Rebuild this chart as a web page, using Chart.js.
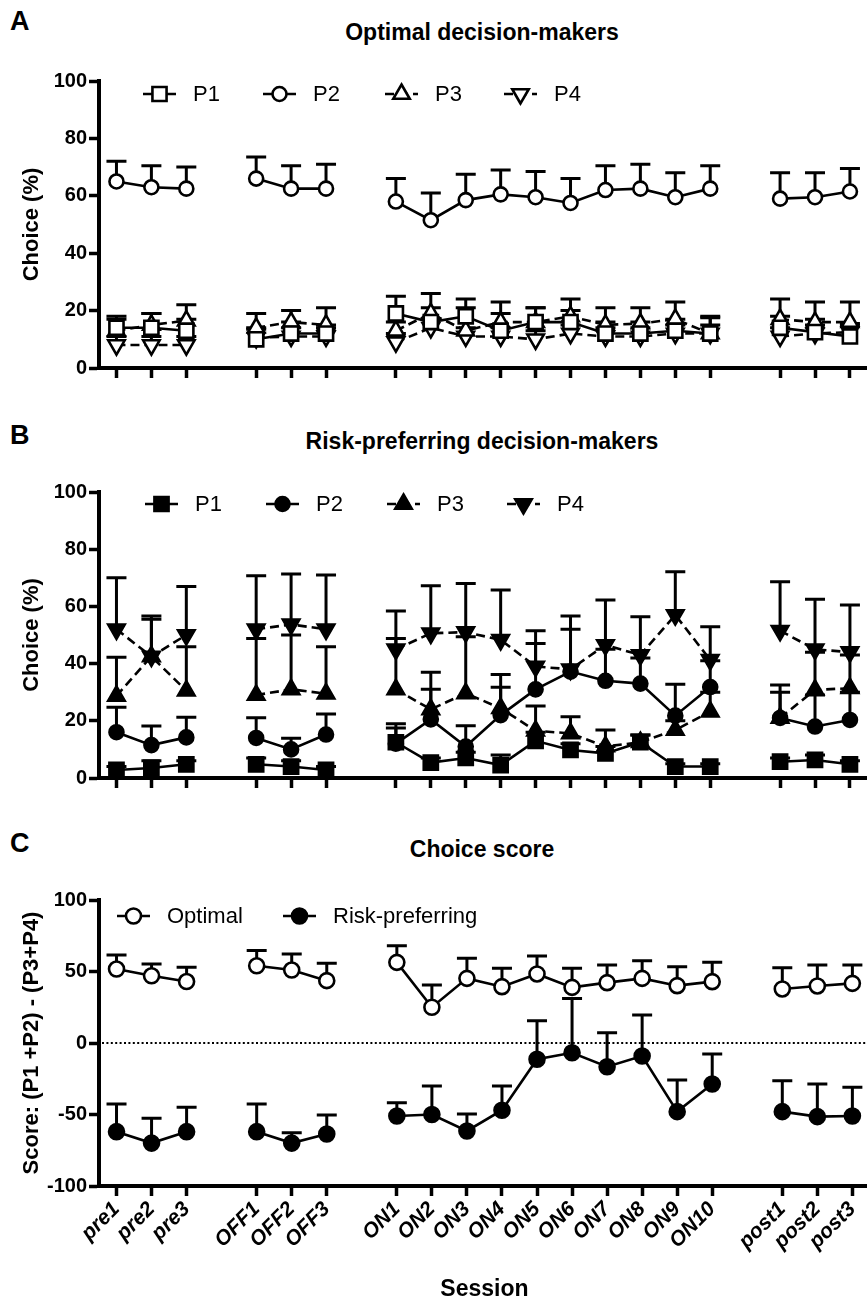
<!DOCTYPE html>
<html><head><meta charset="utf-8">
<script src="https://cdn.jsdelivr.net/npm/chart.js@4.4.1/dist/chart.umd.min.js"></script>
<style>
html,body{margin:0;padding:0;background:#fff;overflow:hidden;width:867px;height:1299px;position:relative;}
.wrap{position:absolute;left:0;}
.lbl{position:absolute;font-family:"Liberation Sans",Arial,Helvetica,sans-serif;font-weight:bold;color:#000;line-height:1;white-space:nowrap;}
.ttl{left:182px;width:600px;text-align:center;font-size:23px;}
.let{left:10px;font-size:27px;}
</style></head><body>
<div class="lbl let" style="top:8px">A</div>
<div class="lbl ttl" style="top:20.5px">Optimal decision-makers</div>
<div class="lbl let" style="top:422px">B</div>
<div class="lbl ttl" style="top:429.5px">Risk-preferring decision-makers</div>
<div class="lbl let" style="top:830px">C</div>
<div class="lbl ttl" style="top:837.5px">Choice score</div>
<div class="wrap" style="top:60px"><canvas id="cA" width="880" height="340"></canvas></div>
<div class="wrap" style="top:470px"><canvas id="cB" width="880" height="340"></canvas></div>
<div class="wrap" style="top:880px"><canvas id="cC" width="880" height="425"></canvas></div>
<script>
// ---------- data ----------
const sessions = ['pre1','pre2','pre3','','OFF1','OFF2','OFF3','','ON1','ON2','ON3','ON4','ON5','ON6','ON7','ON8','ON9','ON10','','post1','post2','post3'];

// Panel A: optimal decision-makers (mean and mean+SEM)
const optP1   = [14,14,13,null,10,12,12,null,19,16,18,13,16,16,12,12,13,12,null,14,12.5,11];
const optP1Hi = [18,19,17,null,14,16,15,null,25,21,24,19,21,20,16,16,17,18,null,18,17,15];
const optP2   = [65,63,62.5,null,66,62.5,62.5,null,58,51.5,58.5,60.5,59.5,57.5,62,62.5,59.5,62.5,null,59,59.5,61.5];
const optP2Hi = [72,70.5,70,null,73.5,70.5,71,null,66,61,67.5,69,68.5,66,70.5,71,68,70.5,null,68,68,69.5];
const optP3   = [13,15,16.5,null,14,16,15,null,13,19,13,16,16,18,15,15.5,17,12,null,17,16,16];
const optP3Hi = [17,19,22,null,19,20,21,null,16,26,21,23,21,24,21,21,23,17.5,null,24,23,23];
const optP4   = [8,8,8,null,10.5,11,11,null,9,14,11,11,10,12,11,11,12,12,null,11,12,12.5];
const optP4Hi = [11,11,11,null,13.5,14,14,null,12,17,14,14,13,15,14,14,15,15,null,14,15,15.5];

// Panel B: risk-preferring decision-makers
const riskP1   = [2.8,3.5,4.8,null,4.8,4,2.8,null,12.5,5.4,7,4.5,13,9.8,8.6,12.5,4,4,null,5.7,6.3,4.8];
const riskP1Hi = [4,6,6,null,7,6,4,null,17.5,7,9,8,16,12,11,15,5,5,null,7,8,6];
const riskP2   = [16,11.5,14.2,null,14,10,15.2,null,12,20.5,11,22,31,37.2,34,33,21.8,31.8,null,21,18,20.3];
const riskP2Hi = [24.7,18.2,21.2,null,21.1,13.9,22.4,null,19,31,18.3,31.7,47,52,45,42,32.8,41,null,32.5,29,30];
const riskP3   = [28.7,42.5,30.5,null,29,31,29.5,null,31,24,29.6,24.4,16.5,15.6,11,12.5,16.8,23.2,null,21,30.8,31.4];
const riskP3Hi = [42.2,55.5,45.9,null,48.8,50,45.9,null,48.8,37,49.4,36.2,25.2,21.4,16.8,15,20,30,null,30,44,43];
const riskP4   = [52,42.5,50,null,52,53.7,52,null,45,50.6,51,48.3,39,38,46.5,43,57,41.3,null,51.5,45,44];
const riskP4Hi = [70,56.6,67,null,70.7,71.3,71,null,58.4,67.2,68,65.7,51.5,56.6,62.2,56.4,72.1,52.9,null,68.6,62.5,60.5];

// Panel C: choice score
const scoreOpt    = [51.7,47,43,null,54,51,43.6,null,56.4,25,45.2,39.4,48.3,38.9,42.2,45.2,40.1,42.9,null,37.8,39.9,41.7];
const scoreOptHi  = [61.5,55.2,52.9,null,64.6,62.2,55.7,null,68,40.6,59.2,52.2,60.8,52.2,54.5,57.6,53.4,56.4,null,52.7,54.5,54.5];
const scoreRisk   = [-62,-70,-62,null,-62,-70,-63.6,null,-51,-50,-61.5,-47,-11.4,-6.8,-16.6,-9.1,-48,-28.7,null,-48,-51.5,-51];
const scoreRiskHi = [-42.7,-52.7,-45,null,-42.7,-62.7,-50.3,null,-41.7,-30,-49.7,-30,15.6,31.2,7.2,19.6,-25.9,-7.7,null,-26.4,-28.7,-31];

const yTicksAB = [0,20,40,60,80,100];
const yTicksC = [-100,-50,0,50,100];

// ---------- styling ----------
const FONT = '"Liberation Sans", Arial, Helvetica, sans-serif';
const BLACK = '#000';

function mk(label, data, upper, shape, filled, dashed, radius) {
  let style = shape, rot = 0;
  if (shape === 'down') { style = 'triangle'; rot = 180; }
  return {
    label, data, upper,
    borderColor: BLACK, borderWidth: 2.6,
    borderDash: dashed ? [9,5] : [],
    pointStyle: style, pointRotation: rot,
    pointRadius: radius, pointHoverRadius: radius,
    pointBorderWidth: 2.6, pointBorderColor: BLACK,
    pointBackgroundColor: filled ? BLACK : '#fff',
    backgroundColor: filled ? BLACK : '#fff',
    spanGaps: false, tension: 0, fill: false
  };
}

const errPlugin = {
  id: 'errBars',
  beforeDatasetsDraw(chart) {
    const ctx = chart.ctx, ys = chart.scales.y;
    chart.data.datasets.forEach((ds, i) => {
      if (!ds.upper) return;
      const meta = chart.getDatasetMeta(i);
      meta.data.forEach((pt, j) => {
        const u = ds.upper[j];
        if (u == null || ds.data[j] == null) return;
        const yp = ys.getPixelForValue(u);
        ctx.save();
        ctx.strokeStyle = BLACK; ctx.lineWidth = 3; ctx.setLineDash([]);
        ctx.beginPath();
        ctx.moveTo(pt.x, pt.y); ctx.lineTo(pt.x, yp);
        ctx.moveTo(pt.x - 10, yp); ctx.lineTo(pt.x + 10, yp);
        ctx.stroke();
        ctx.restore();
      });
    });
  }
};

const zeroPlugin = {
  id: 'zeroLine',
  beforeDatasetsDraw(chart, args, opts) {
    if (!opts || !opts.show) return;
    const ctx = chart.ctx, a = chart.chartArea, y = chart.scales.y.getPixelForValue(0);
    ctx.save();
    ctx.strokeStyle = BLACK; ctx.lineWidth = 2; ctx.setLineDash([2,2.4]);
    ctx.beginPath(); ctx.moveTo(a.left + 3, y); ctx.lineTo(a.right, y); ctx.stroke();
    ctx.restore();
  }
};

const legendPlugin = {
  id: 'lineLegend',
  afterDatasetsDraw(chart, args, opts) {
    if (!opts || !opts.items) return;
    const ctx = chart.ctx;
    opts.items.forEach(it => {
      const ds = chart.data.datasets[it.ds];
      ctx.save();
      ctx.strokeStyle = BLACK; ctx.lineWidth = ds.borderWidth;
      ctx.setLineDash(ds.borderDash || []);
      ctx.beginPath(); ctx.moveTo(it.x, opts.y); ctx.lineTo(it.x + 33, opts.y); ctx.stroke();
      ctx.setLineDash([]);
      ctx.fillStyle = ds.pointBackgroundColor; ctx.strokeStyle = BLACK; ctx.lineWidth = ds.pointBorderWidth;
      Chart.helpers.drawPoint(ctx, {pointStyle: ds.pointStyle, rotation: ds.pointRotation || 0,
        radius: ds.pointRadius, borderWidth: ds.pointBorderWidth}, it.x + 16.5, opts.y);
      ctx.fillStyle = BLACK; ctx.font = '22px ' + FONT; ctx.textBaseline = 'middle'; ctx.textAlign = 'left';
      ctx.fillText(ds.label, it.x + 50, opts.y + 1);
      ctx.restore();
    });
  }
};

function makeChart(id, datasets, cfg) {
  const xAxisH = cfg.xAxisH;
  return new Chart(document.getElementById(id), {
    type: 'line',
    data: { labels: sessions, datasets },
    plugins: [errPlugin, zeroPlugin, legendPlugin],
    options: {
      responsive: false, animation: false, events: [],
      layout: { padding: { top: cfg.padTop, right: 7, left: 0, bottom: 0 } },
      plugins: {
        legend: { display: false }, tooltip: { enabled: false }, title: { display: false },
        zeroLine: { show: !!cfg.zero },
        lineLegend: { y: cfg.legendY, items: cfg.legendItems }
      },
      scales: {
        x: {
          type: 'category', offset: true,
          ticks: { display: cfg.showX, autoSkip: false, minRotation: 45, maxRotation: 45, color: BLACK, padding: 1,
                   font: { family: FONT, size: 21, weight: 'bold', style: 'italic' } },
          grid: { drawOnChartArea: false, drawTicks: true, tickLength: 10, tickWidth: 3.5, offset: false,
                  tickColor: c => (sessions[c.index] ? BLACK : 'rgba(0,0,0,0)') },
          border: { display: true, color: BLACK, width: 4 },
          title: { display: !!cfg.xTitle, text: cfg.xTitle || '', color: BLACK,
                   font: { family: FONT, size: 23, weight: 'bold' }, padding: { top: 0, bottom: 2 } },
          afterFit(s) { s.height = xAxisH; }
        },
        y: {
          min: cfg.yMin, max: cfg.yMax,
          afterBuildTicks(s) { s.ticks = cfg.yTicks.map(v => ({ value: v })); },
          ticks: { color: BLACK, padding: 2, font: { family: FONT, size: 20, weight: 'bold' } },
          grid: { drawOnChartArea: false, drawTicks: true, tickLength: 10, tickWidth: 3.5, tickColor: BLACK },
          border: { display: true, color: BLACK, width: 4 },
          title: { display: true, text: cfg.yTitle, color: BLACK,
                   font: { family: FONT, size: 22, weight: 'bold' }, padding: { top: 19, bottom: 0 } },
          afterFit(s) { s.width = 99; }
        }
      }
    }
  });
}

makeChart('cA', [
  mk('P1', optP1, optP1Hi, 'rect', false, false, 10),
  mk('P2', optP2, optP2Hi, 'circle', false, false, 7),
  mk('P3', optP3, optP3Hi, 'triangle', false, true, 9.5),
  mk('P4', optP4, optP4Hi, 'down', false, true, 9.5)
], { padTop: 21, xAxisH: 32, showX: false, yMin: 0, yMax: 100, yTicks: yTicksAB, yTitle: 'Choice (%)',
     legendY: 34, legendItems: [{ds:0,x:143},{ds:1,x:263},{ds:2,x:385},{ds:3,x:504}] });

makeChart('cB', [
  mk('P1', riskP1, riskP1Hi, 'rect', true, false, 10),
  mk('P2', riskP2, riskP2Hi, 'circle', true, false, 7),
  mk('P3', riskP3, riskP3Hi, 'triangle', true, true, 9.5),
  mk('P4', riskP4, riskP4Hi, 'down', true, true, 9.5)
], { padTop: 22, xAxisH: 32, showX: false, yMin: 0, yMax: 100, yTicks: yTicksAB, yTitle: 'Choice (%)',
     legendY: 34, legendItems: [{ds:0,x:145},{ds:1,x:266},{ds:2,x:387},{ds:3,x:507}] });

makeChart('cC', [
  mk('Optimal', scoreOpt, scoreOptHi, 'circle', false, false, 7.5),
  mk('Risk-preferring', scoreRisk, scoreRiskHi, 'circle', true, false, 7.5)
], { padTop: 20, xAxisH: 119, showX: true, xTitle: 'Session', zero: true, yMin: -100, yMax: 100, yTicks: yTicksC,
     yTitle: 'Score: (P1 +P2) - (P3+P4)',
     legendY: 36, legendItems: [{ds:0,x:117},{ds:1,x:283}] });
</script>
</body></html>
